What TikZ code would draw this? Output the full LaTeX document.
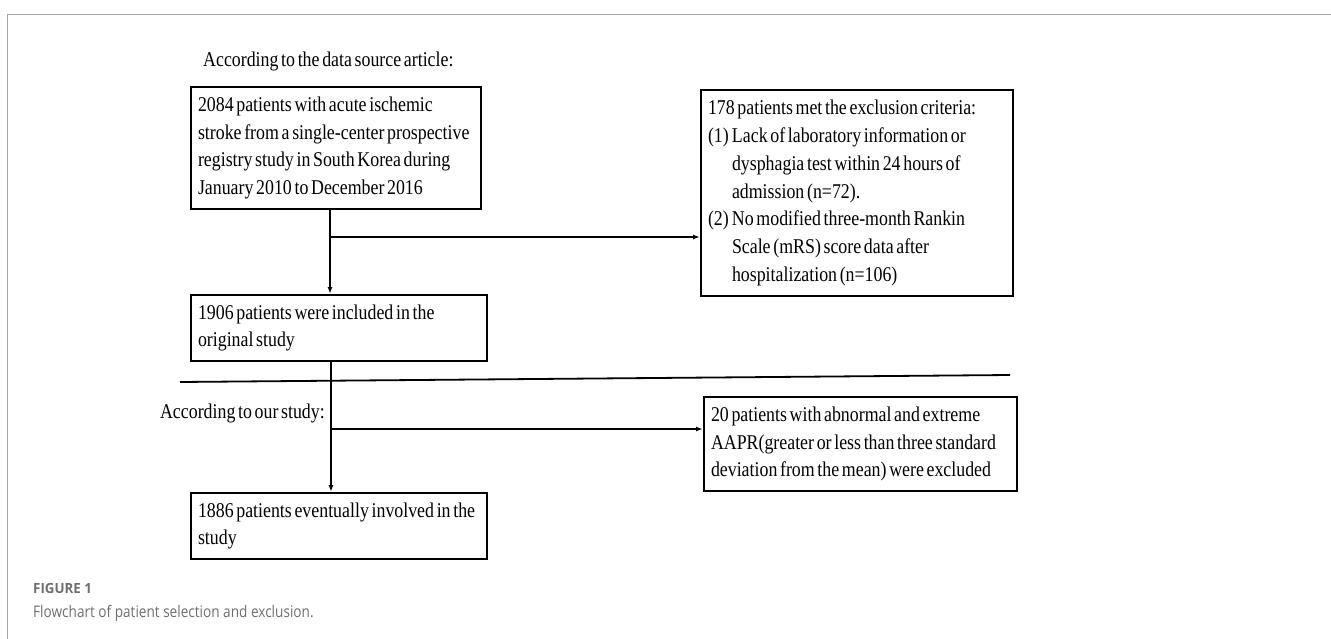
\documentclass[tikz,border=0pt]{standalone}
\usepackage{fontspec}
\setmainfont{Liberation Serif}[FakeStretch=0.85,WordSpace=0.6]
\newfontfamily\capfont{Open Sans}[FakeStretch=0.85]
\newfontfamily\capbold{Open Sans}[FakeStretch=0.95]
\usetikzlibrary{arrows.meta,calc}
\definecolor{framegray}{RGB}{165,165,165}
\definecolor{capgray}{RGB}{110,110,110}
\newlength{\critw}
\setlength{\critw}{24pt}
\tikzset{
  flowbox/.style={draw, rectangle, line width=2pt, align=flush left, inner xsep=7pt, inner ysep=2pt, font=\fontsize{21}{27.7}\selectfont},
  flowtext/.style={inner sep=0pt, font=\fontsize{21}{27.7}\selectfont},
  arr/.style={line width=1.8pt, -{Latex[length=7pt,width=5pt]}},
  joinline/.style={line width=1.8pt}
}

\begin{document}
\begin{tikzpicture}[x=1pt, y=-1pt]
				\useasboundingbox (0,0) rectangle (1331,639);
				% frame
				\draw[framegray, line width=1pt] (1331,15) -- (7,15) -- (7,639);
				% upper part
				\node[flowtext, anchor=base west] (head1)at(203, 67) {According to the data source article:};
				\node[flowbox, anchor=north west, text width=276pt, minimum height=122pt] (b1)at(190, 86) {2084 patients with acute ischemic\\stroke from a single-center prospective\\registry study in South Korea during\\January 2010 to December 2016};
				\node[flowbox, anchor=north west, text width=298pt, minimum height=206pt] (b2)at(700, 89) {178 patients met the exclusion criteria:\\\makebox[\critw][l]{(1)}Lack of laboratory information or\\\hspace*{\critw}dysphagia test within 24 hours of\\\hspace*{\critw}admission (n=72).\\\makebox[\critw][l]{(2)}No modified three-month Rankin\\\hspace*{\critw}Scale (mRS) score data after\\\hspace*{\critw}hospitalization (n=106)};
				\node[flowbox, anchor=north west, text width=282pt, minimum height=66pt] (b3)at(190, 294) {1906 patients were included in the\\original study};
				\coordinate (j1)at(330, 237);
				\draw[arr] (b1.south -| j1) -- (b3.north -| j1);
				\draw[arr] (j1) -- (b2.west |- j1);
				% separator
				\coordinate (s1)at(180, 382);
				\coordinate (s2)at(1010, 375);
				\draw[joinline] (s1) -- (s2);
				% lower part
				\node[flowtext, anchor=base east] (head2)at(325, 418) {According to our study:};
				\node[flowbox, anchor=north west, text width=299pt, minimum height=94pt] (b5)at(703, 396) {20 patients with abnormal and extreme\\AAPR(greater or less than three standard\\deviation from the mean) were excluded};
				\node[flowbox, anchor=north west, text width=282pt, minimum height=66pt] (b4)at(190, 492) {1886 patients eventually involved in the\\study};
				\coordinate (j2)at(331, 429);
				\draw[arr] (b3.south -| j2) -- (b4.north -| j2);
				\draw[arr] (j2) -- (b5.west |- j2);
				% caption
				\node[inner sep=0pt, anchor=base west, text=capgray, font=\capbold\bfseries\fontsize{14}{16}\selectfont] (figno)at(33, 593) {FIGURE 1};
				\node[inner sep=0pt, anchor=base west, text=capgray, font=\capfont\fontsize{16}{19}\selectfont] (figcap)at(33, 617) {Flowchart of patient selection and exclusion.};
\end{tikzpicture}
\end{document}
